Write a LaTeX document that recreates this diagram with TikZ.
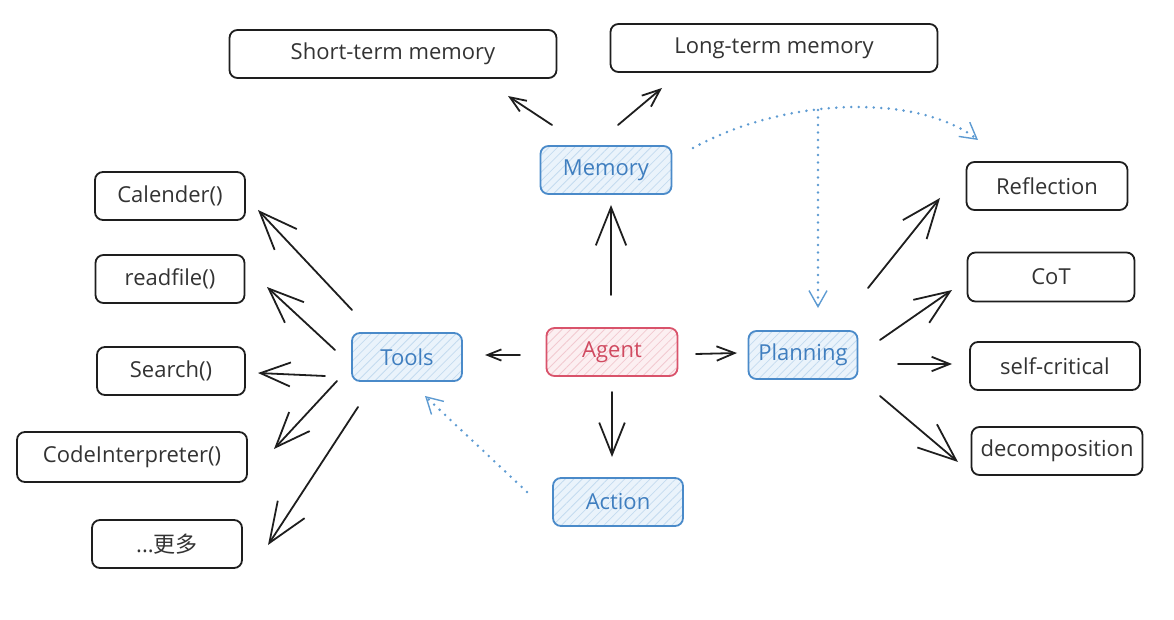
\documentclass[tikz,border=0pt]{standalone}
\usepackage{fontspec}
\setmainfont{Open Sans}
\newfontfamily\cjk{Noto Sans CJK SC}
\usetikzlibrary{arrows.meta,patterns.meta,calc}
\definecolor{ink}{HTML}{1E1E1E}
\definecolor{txt}{HTML}{333333}
\definecolor{bluedraw}{HTML}{4A8AC9}
\definecolor{bluetext}{HTML}{3F7EBF}
\definecolor{bluefill}{HTML}{EAF3FB}
\definecolor{bluehatch}{HTML}{C4DBEF}
\definecolor{reddraw}{HTML}{D9536B}
\definecolor{redtext}{HTML}{D04A60}
\definecolor{redfill}{HTML}{FCEFF1}
\definecolor{redhatch}{HTML}{F2C9D0}
\definecolor{dotblue}{HTML}{5E9BD2}
\tikzset{
  lbl/.style={font=\fontsize{22pt}{26pt}\selectfont, inner sep=0pt, minimum height=48pt, rounded corners=8pt, line width=1.8pt},
  box/.style={lbl, draw=ink, fill=white, text=txt},
  bluebox/.style={lbl, draw=bluedraw, text=bluetext, preaction={fill=bluefill},
    pattern={Lines[angle=45,distance=6pt,line width=0.8pt]}, pattern color=bluehatch},
  redbox/.style={lbl, draw=reddraw, text=redtext, preaction={fill=redfill},
    pattern={Lines[angle=45,distance=6pt,line width=0.8pt]}, pattern color=redhatch},
  arr/.style={draw=ink, line width=1.8pt, line cap=round, line join=round,
    -{Straight Barb[length=#1pt, width=0.8*#1pt, line width=1.8pt]}},
  dots/.style={draw=dotblue, line width=2.8pt, line cap=round, dash pattern=on 0pt off 7.5pt,
    -{Straight Barb[length=16pt, width=18pt, line width=1.4pt]}}
}
\begin{document}
\begin{tikzpicture}[x=1pt,y=-1pt]
\useasboundingbox (0,0) rectangle (1174,620);
% central nodes
\node[redbox, minimum width=131pt] (agent) at (612,352) {Agent};
\node[bluebox, minimum width=131pt] (memory) at (606,170) {Memory};
\node[bluebox, minimum width=109pt] (planning) at (803,355) {Planning};
\node[bluebox, minimum width=110pt] (tools) at (407,357) {Tools};
\node[bluebox, minimum width=130pt] (action) at (618,502) {Action};
% memory leaves
\node[box, minimum width=327pt] (short) at (393,54) {Short-term memory};
\node[box, minimum width=327pt] (long) at (774,48) {Long-term memory};
% tool leaves
\node[box, minimum width=150pt] (cal) at (170,196) {Calender()};
\node[box, minimum width=149pt] (read) at (170,279) {readfile()};
\node[box, minimum width=148pt] (search) at (171,371) {Search()};
\node[box, minimum width=230pt, minimum height=50pt] (code) at (132,457) {CodeInterpreter()};
\node[box, minimum width=150pt] (more) at (167,544) {...{\cjk 更多}};
% planning leaves
\node[box, minimum width=161pt] (refl) at (1047,186) {Reflection};
\node[box, minimum width=167pt, minimum height=49pt] (cot) at (1051,277) {CoT};
\node[box, minimum width=170pt] (selfc) at (1055,366) {self-critical};
\node[box, minimum width=171pt] (decomp) at (1057,451) {decomposition};
% arrows
\draw[arr=16] ($(memory)+(-54,-45)$) -- ($(short)+(115,42)$);
\draw[arr=18] ($(memory)+(12,-45)$) -- ($(long)+(-112,40)$);
\draw[arr=38] ($(agent)+(-1,-57)$) -- ($(memory)+(5,35)$);
\draw[arr=18] ($(agent)+(84,2)$) -- ($(planning)+(-66,-2)$);
\draw[arr=14] ($(agent)+(-92,3)$) -- ($(tools)+(78,-2)$);
\draw[arr=32] ($(agent)+(0,40)$) -- ($(action)+(-6,-45)$);
\draw[arr=38] ($(planning)+(65,-67)$) -- ($(refl)+(-107,12)$);
\draw[arr=35] ($(planning)+(77,-15)$) -- ($(cot)+(-99,13)$);
\draw[arr=18] ($(planning)+(95,9)$) -- ($(selfc)+(-103,-2)$);
\draw[arr=38] ($(planning)+(77,41)$) -- ($(decomp)+(-99,11)$);
\draw[arr=38] ($(tools)+(-55,-47)$) -- ($(cal)+(88,14)$);
\draw[arr=35] ($(tools)+(-72,-7)$) -- ($(read)+(97,8)$);
\draw[arr=30] ($(tools)+(-82,19)$) -- ($(search)+(87,2)$);
\draw[arr=35] ($(tools)+(-70,24)$) -- ($(code)+(142,-8)$);
\draw[arr=40] ($(tools)+(-49,50)$) -- ($(more)+(101,1)$);
% dotted connectors
\draw[dots] ($(action)+(-91,-10)$) -- ($(tools)+(18,39)$);
\draw[dots] ($(memory)+(87,-22)$) .. controls (790,95) and (920,95) .. ($(refl)+(-69,-46)$);
\coordinate (branch) at (818,110);
\draw[dots] (branch) -- ($(planning)+(15,-47)$);
\end{tikzpicture}
\end{document}
